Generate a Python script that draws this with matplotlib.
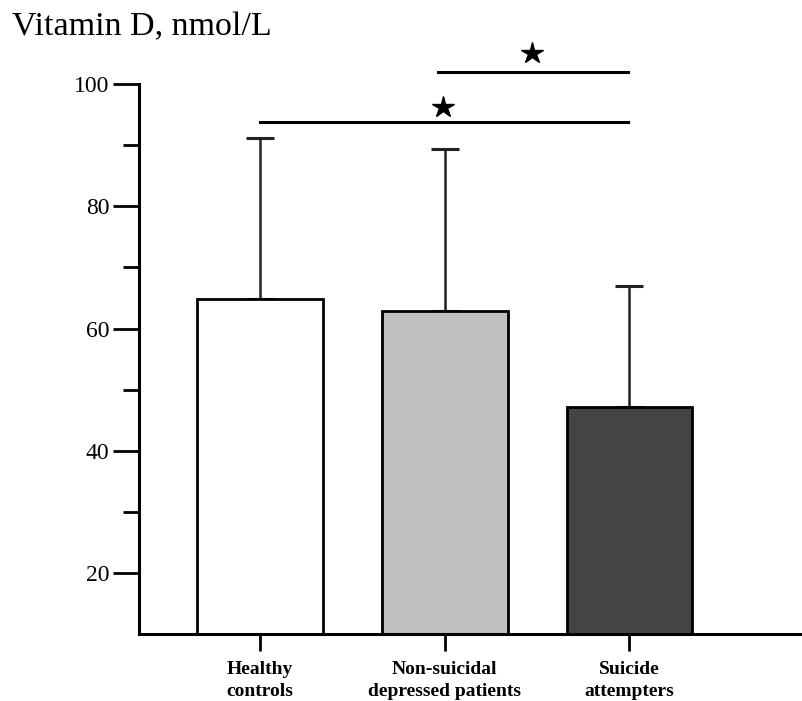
import matplotlib.pyplot as plt

# Data
groups = ['Healthy\ncontrols', 'Non-suicidal\ndepressed patients', 'Suicide\nattempters']
means = [64.8, 62.8, 47.1]
sds = [26.3, 26.5, 19.9]
colors = ['white', '#c0c0c0', '#444444']

# significance brackets: (start, end, height, star x, star y)
brackets = [(0, 1.99, 93.7, 0.99, 96.2),
            (0.965, 1.99, 101.9, 1.475, 105.0)]

plt.rcParams['font.family'] = ['Liberation Serif', 'DejaVu Serif']

fig = plt.figure(figsize=(8.02, 7.01), dpi=100)
ax = fig.add_axes([0.1733, 0.0952, 0.8267, 0.8723])

x = range(len(groups))
ax.bar(x, means, bottom=0, width=0.68, color=colors, edgecolor='black',
       linewidth=2.0, zorder=2)
ax.errorbar(x, means, yerr=[[0] * 3, sds], fmt='none', ecolor='#222222',
            elinewidth=1.8, capsize=10, capthick=2.2, zorder=1)

for x0, x1, h, sx, sy in brackets:
    ax.plot([x0, x1], [h, h], color='black', lw=2.2, clip_on=False)
    ax.plot(sx, sy, marker='*', color='black', markersize=16, clip_on=False)

ax.set_xlim(-0.655, 2.934)
ax.set_ylim(10, 110)
ax.spines['left'].set_bounds(10, 100)
ax.spines['top'].set_visible(False)
ax.spines['right'].set_visible(False)
ax.spines['left'].set_linewidth(2.2)
ax.spines['bottom'].set_linewidth(2.2)

ax.set_yticks([20, 40, 60, 80, 100])
ax.yaxis.set_minor_locator(plt.FixedLocator([30, 50, 70, 90]))
ax.tick_params(axis='y', which='major', length=18.5, width=2, labelsize=17, pad=3)
ax.tick_params(axis='y', which='minor', length=11.5, width=2)

ax.set_xticks(list(x))
ax.set_xticklabels(groups, fontweight='bold', fontsize=14, linespacing=1.4)
ax.tick_params(axis='x', length=12, width=2, pad=7)

fig.text(0.015, 0.95, 'Vitamin D, nmol/L', fontsize=24.5, ha='left', va='baseline')

fig.savefig('out.png', dpi=100)
